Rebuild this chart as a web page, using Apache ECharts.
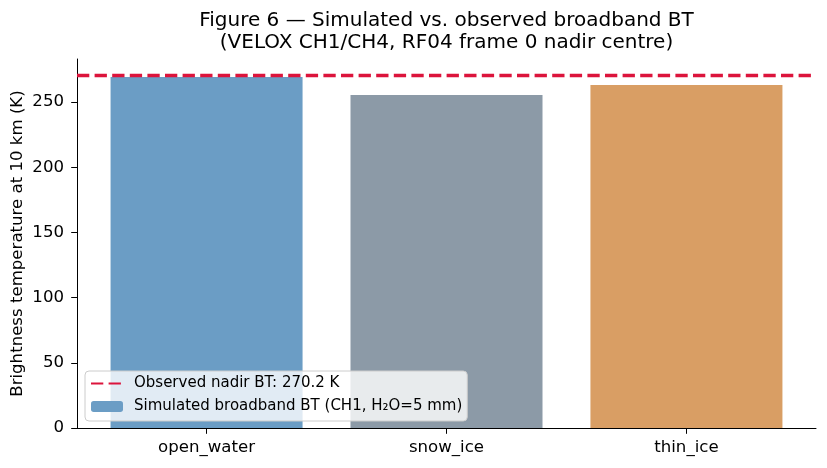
<!DOCTYPE html>
<html><head><meta charset="utf-8">
<script src="https://cdn.jsdelivr.net/npm/echarts@6/dist/echarts.min.js"></script>
<style>html,body{margin:0;padding:0;background:#fff}#c{width:827px;height:468px}</style>
</head><body><div id="c"></div>
<script>
const categories = ['open_water', 'snow_ice', 'thin_ice'];
const simulatedBT = [269.2, 255.4, 263.0];
const barColors = ['#6b9dc5', '#8c9aa7', '#d99e64'];
const observedBT = 270.2;
const yTicks = [0, 50, 100, 150, 200, 250];
const titleLines = ['Figure 6 — Simulated vs. observed broadband BT', '(VELOX CH1/CH4, RF04 frame 0 nadir centre)'];
const obsName = 'Observed nadir BT: 270.2 K';
const simName = 'Simulated broadband BT (CH1, H₂O=5 mm)';

const FONT = 'DejaVu Sans';
const DASH = [12.3, 5.3];
const chart = echarts.init(document.getElementById('c'), null, {renderer: 'canvas'});
chart.setOption({
  animation: false,
  textStyle: {fontFamily: FONT, color: '#000'},
  title: {
    text: titleLines.join('\n'),
    left: 441.5, top: 5, textAlign: 'center',
    textStyle: {fontFamily: FONT, fontSize: 20, fontWeight: 'normal', color: '#000', lineHeight: 22}
  },
  grid: {left: 77, right: 11, top: 59, bottom: 40, containLabel: false, outerBoundsMode: 'none'},
  xAxis: {
    type: 'value', min: -0.54, max: 2.54,
    splitLine: {show: false},
    axisLine: {show: true, onZero: false, lineStyle: {color: '#000', width: 1}},
    axisTick: {show: true, customValues: [0, 1, 2], length: 5.8, lineStyle: {color: '#000'}},
    axisLabel: {customValues: [0, 1, 2], formatter: v => categories[Math.round(v)], fontSize: 16.6, color: '#000', margin: 11, fontFamily: FONT}
  },
  yAxis: {
    type: 'value', min: 0, max: 283,
    name: 'Brightness temperature at 10 km (K)',
    nameLocation: 'middle', nameGap: 51, nameMoveOverlap: false,
    nameTextStyle: {fontSize: 16.6, color: '#000', fontFamily: FONT},
    splitLine: {show: false},
    axisLine: {show: true, onZero: false, lineStyle: {color: '#000', width: 1}},
    axisTick: {show: true, customValues: yTicks, length: 5.8, lineStyle: {color: '#000'}},
    axisLabel: {customValues: yTicks, fontSize: 16.6, color: '#000', margin: 13, fontFamily: FONT}
  },
  legend: {
    orient: 'vertical', left: 85, bottom: 47,
    data: [
      {name: obsName, itemStyle: {opacity: 0}},
      {name: simName}
    ],
    itemWidth: 32, itemHeight: 11, itemGap: 8,
    padding: [5, 5, 7, 5],
    backgroundColor: 'rgba(255,255,255,0.8)',
    borderColor: '#cccccc', borderWidth: 1, borderRadius: 4,
    textStyle: {fontSize: 15, color: '#000', fontFamily: FONT, padding: [0, 0, 0, 6]}
  },
  series: [
    {
      name: simName, type: 'bar', barWidth: 192,
      itemStyle: {color: barColors[0]},
      data: simulatedBT.map((v, i) => ({value: [i, v], itemStyle: {color: barColors[i]}})),
      z: 2
    },
    {
      name: obsName, type: 'line', data: [],
      symbol: 'none',
      lineStyle: {color: '#dc143c', width: 3.3, type: DASH},
      itemStyle: {color: '#dc143c'},
      markLine: {
        silent: true, symbol: ['none', 'none'], label: {show: false},
        lineStyle: {color: '#dc143c', width: 3.3, type: DASH},
        data: [{yAxis: observedBT}]
      },
      z: 3
    }
  ]
});
</script></body></html>
